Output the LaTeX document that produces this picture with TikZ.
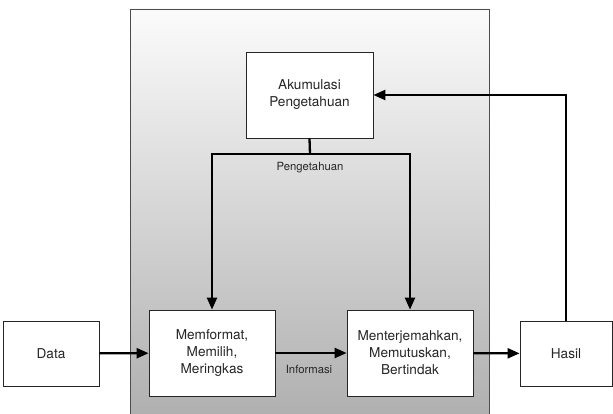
\documentclass[tikz,border=0pt]{standalone}
\usepackage{fontspec}
\setmainfont{TeX Gyre Heros}
\usetikzlibrary{arrows.meta}
\begin{document}
\begin{tikzpicture}[x=1pt,y=-1pt,
  box/.style={draw=black!85,line width=0.8pt,fill=white,align=center,inner sep=0pt,
    text=black!85,font=\fontsize{13.6}{17}\selectfont},
  conn/.style={line width=2.3pt,draw=black},
  arr/.style={conn,-{Triangle[length=12pt,width=10pt]}},
  lbl/.style={text=black!85,font=\fontsize{11.3}{12}\selectfont,inner sep=1pt}]
\useasboundingbox (0,0) rectangle (613,414);
\shade[top color=gray!3,bottom color=gray!62] (130,9) rectangle (489,414);
\draw[gray!60!black,line width=0.8pt] (130,414) -- (130,9) -- (489,9) -- (489,414);
\node[box,minimum width=127pt,minimum height=86pt] (akum) at (309.5,95) {Akumulasi\\Pengetahuan};
\node[box,minimum width=126pt,minimum height=86pt] (mem) at (212,353) {Memformat,\\Memilih,\\Meringkas};
\node[box,minimum width=126pt,minimum height=86pt] (ment) at (410,353) {Menterjemahkan,\\Memutuskan,\\Bertindak};
\node[box,minimum width=96pt,minimum height=65pt] (data) at (51,353.5) {Data};
\node[box,minimum width=92pt,minimum height=65pt] (hasil) at (566,353.5) {Hasil};
\coordinate (j) at (310,154);
\draw[conn] (akum.south) -- (j);
\draw[arr] (j) -| (mem.north);
\draw[arr] (j) -| (ment.north);
\node[lbl] (lp) at (310,168) {Pengetahuan};
\draw[arr] (data) -- (mem);
\draw[arr] (mem) -- (ment);
\node[lbl] (li) at (309,369) {Informasi};
\draw[arr] (ment) -- (hasil);
\draw[arr] (hasil.north) |- (akum.east);
\end{tikzpicture}
\end{document}
